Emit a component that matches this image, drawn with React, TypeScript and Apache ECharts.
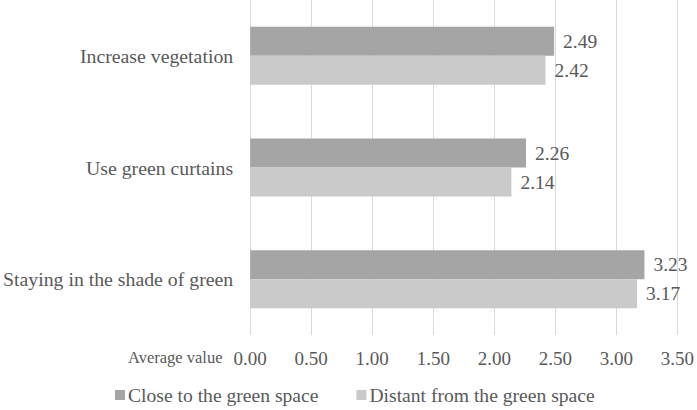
import React, { useEffect, useRef } from "react";
import * as echarts from "echarts";

const categories = ["Increase vegetation", "Use green curtains", "Staying in the shade of green"];
const closeValues = [2.49, 2.26, 3.23];
const distantValues = [2.42, 2.14, 3.17];
const seriesNames = ["Close to the green space", "Distant from the green space"];
const axisTitle = "Average value";

const FONT = "'Liberation Serif', 'Times New Roman', serif";
const TEXT = "#595959";

export default function App() {
  const ref = useRef<HTMLDivElement>(null);
  useEffect(() => {
    if (!ref.current) return;
    const chart = echarts.init(ref.current, undefined, { renderer: "svg" });
    const label = {
      show: true,
      position: "right" as const,
      distance: 9,
      color: TEXT,
      fontFamily: FONT,
      fontSize: 19.5,
      formatter: (p: any) => Number(p.value).toFixed(2),
    };
    chart.setOption({
      animation: false,
      textStyle: { fontFamily: FONT },
      grid: { left: 250, right: 19, top: 0, bottom: 75, containLabel: false },
      xAxis: {
        type: "value",
        min: 0,
        max: 3.5,
        interval: 0.5,
        axisLine: { show: false },
        axisTick: { show: false },
        splitLine: { show: true, lineStyle: { color: "#d9d9d9", width: 1 } },
        axisLabel: {
          color: TEXT,
          fontFamily: FONT,
          fontSize: 19,
          margin: 14,
          formatter: (v: number) => v.toFixed(2),
        },
      },
      yAxis: {
        type: "category",
        data: categories,
        inverse: true,
        axisLine: { show: false },
        axisTick: { show: false },
        axisLabel: { color: TEXT, fontFamily: FONT, fontSize: 19.8, margin: 17 },
      },
      legend: {
        top: 380,
        left: 110,
        itemWidth: 10,
        itemHeight: 10,
        itemGap: 38,
        icon: "rect",
        textStyle: { color: TEXT, fontFamily: FONT, fontSize: 19.6, padding: [0, 0, 0, -2] },
        data: seriesNames,
      },
      graphic: [
        {
          type: "text",
          left: 128,
          top: 349,
          style: { text: axisTitle, fill: TEXT, font: `16.5px ${FONT}` },
        },
      ],
      series: [
        {
          name: seriesNames[0],
          type: "bar",
          data: closeValues,
          barWidth: 29,
          barGap: "0%",
          itemStyle: { color: "#a5a5a5" },
          label,
        },
        {
          name: seriesNames[1],
          type: "bar",
          data: distantValues,
          barWidth: 29,
          barGap: "0%",
          itemStyle: { color: "#cacaca" },
          label,
        },
      ],
    });
    return () => chart.dispose();
  }, []);
  return (
    <div
      ref={ref}
      style={{ position: "fixed", left: 0, top: 0, width: 697, height: 410, background: "#fff" }}
    />
  );
}
